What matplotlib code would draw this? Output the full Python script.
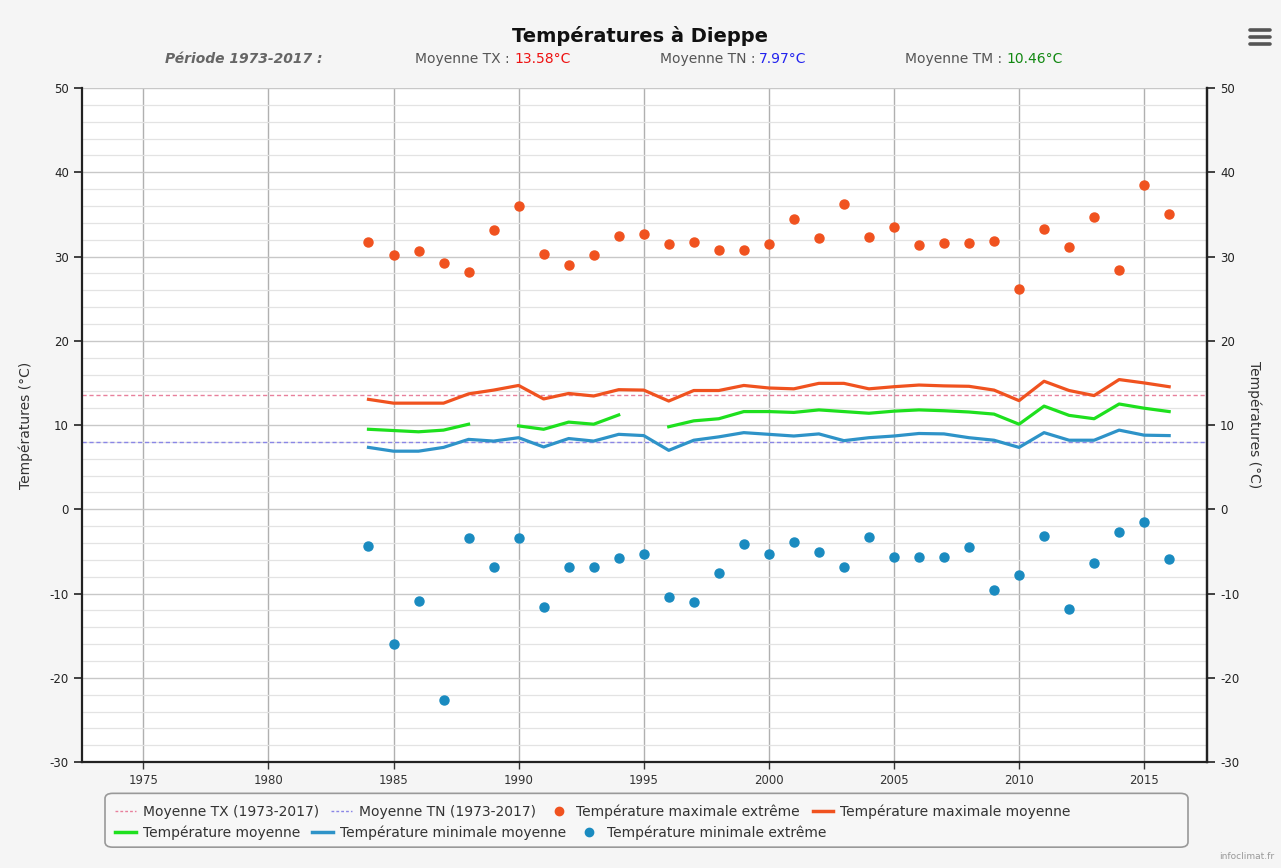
import numpy as np
import matplotlib.pyplot as plt
from matplotlib.lines import Line2D
from matplotlib.patches import FancyBboxPatch

plt.rcParams['axes.unicode_minus'] = False

# Données (Dieppe, 1984-2016)
annees = np.arange(1984, 2017)

tx_extreme = [31.7, 30.2, 30.65, 29.2, 28.2, 33.1, 36.0, 30.3, 29.0, 30.2, 32.4, 32.7,
              31.5, 31.7, 30.8, 30.8, 31.5, 34.5, 32.2, 36.2, 32.3, 33.5, 31.4, 31.6,
              31.6, 31.8, 26.1, 33.3, 31.1, 34.7, 28.4, 38.5, 35.0]

tn_extreme = [-4.4, -16.0, -10.9, -22.6, -3.4, -6.9, -3.4, -11.6, -6.9, -6.9, -5.8, -5.3,
              -10.4, -11.0, -7.6, -4.1, -5.3, -3.9, -5.1, -6.9, -3.3, -5.7, -5.7, -5.7,
              -4.5, -9.6, -7.8, -3.2, -11.8, -6.4, -2.7, -1.5, -5.9]

tx_moy = [13.05, 12.6, 12.6, 12.6, 13.7, 14.15, 14.7, 13.1, 13.75, 13.45, 14.2, 14.15,
          12.85, 14.1, 14.1, 14.7, 14.4, 14.3, 14.95, 14.95, 14.3, 14.55, 14.75, 14.65,
          14.6, 14.15, 12.9, 15.2, 14.1, 13.5, 15.4, 15.0, 14.55]

# nan = année manquante (1989, 1995)
tm_moy = [9.5, 9.35, 9.2, 9.4, 10.1, np.nan, 9.9, 9.5, 10.35, 10.1, 11.2, np.nan,
          9.8, 10.5, 10.75, 11.6, 11.6, 11.5, 11.8, 11.6, 11.4, 11.65, 11.8, 11.7,
          11.55, 11.3, 10.1, 12.25, 11.15, 10.75, 12.5, 12.0, 11.6]

tn_moy = [7.35, 6.9, 6.9, 7.35, 8.3, 8.1, 8.5, 7.4, 8.4, 8.1, 8.9, 8.75,
          7.0, 8.2, 8.6, 9.1, 8.9, 8.7, 8.95, 8.15, 8.5, 8.7, 9.0, 8.95,
          8.5, 8.2, 7.35, 9.1, 8.2, 8.2, 9.4, 8.8, 8.75]

moyenne_tx = 13.58
moyenne_tn = 7.97
moyenne_tm = 10.46

c_tx = '#f0521f'
c_tm = '#1ee01e'
c_tn = '#2e93c8'
c_tn_ext = '#1a8bc0'
c_ref_tx = '#e8809c'
c_ref_tn = '#8a86e6'

fig = plt.figure(figsize=(12.81, 8.68), dpi=100, facecolor='#f5f5f5')
ax = fig.add_axes([0.064, 0.122, 0.878, 0.7766])
ax.set_facecolor('white')

ax.axhline(moyenne_tx, color=c_ref_tx, lw=1, ls=(0, (3, 2)), zorder=2)
ax.axhline(moyenne_tn, color=c_ref_tn, lw=1, ls=(0, (3, 2)), zorder=2)
ax.plot(annees, tx_extreme, 'o', color=c_tx, ms=6.5, zorder=4)
ax.plot(annees, tx_moy, color=c_tx, lw=2.3, zorder=3)
ax.plot(annees, tm_moy, color=c_tm, lw=2.3, zorder=3)
ax.plot(annees, tn_moy, color=c_tn, lw=2.3, zorder=3)
ax.plot(annees, tn_extreme, 'o', color=c_tn_ext, ms=6.5, zorder=4)

ax.set_xlim(1972.55, 2017.5)
ax.set_ylim(-30, 50)
ax.set_xticks(np.arange(1975, 2016, 5))
ax.set_yticks(np.arange(-30, 51, 10))
ax.set_yticks(np.arange(-30, 51, 2), minor=True)
ax.grid(True, axis='x', color='#b0b0b0', lw=1)
ax.grid(True, axis='y', which='major', color='#c8c8c8', lw=1)
ax.grid(True, axis='y', which='minor', color='#e3e3e3', lw=0.9)
ax.set_axisbelow(True)

for s in ['left', 'right', 'bottom']:
    ax.spines[s].set_color('#222222')
    ax.spines[s].set_linewidth(1.6)
ax.spines['top'].set_visible(False)
ax.tick_params(axis='y', which='minor', length=0)
ax.tick_params(axis='y', which='major', length=6, width=1.2, labelsize=8.5, colors='#222222')
ax.tick_params(axis='x', length=5, width=1, labelsize=8.5, colors='#333333')
ax.set_ylabel('Températures (°C)', fontsize=10, color='#333333', labelpad=12)

ax2 = ax.twinx()
ax2.set_ylim(-30, 50)
ax2.set_yticks(np.arange(-30, 51, 10))
ax2.tick_params(axis='y', length=6, width=1.2, labelsize=8.5, colors='#222222')
for s in ['left', 'top', 'bottom']:
    ax2.spines[s].set_visible(False)
ax2.spines['right'].set_color('#222222')
ax2.spines['right'].set_linewidth(1.6)
ax2.set_ylabel('Températures (°C)', fontsize=10, color='#333333', rotation=270, labelpad=16)

# titre et sous-titre
fig.text(0.5, 0.958, 'Températures à Dieppe', ha='center', va='center',
         fontsize=14, fontweight='bold', color='#111111')
ysub = 0.932
fig.text(165 / 1281, ysub, 'Période 1973-2017 :', ha='left', va='center',
         fontsize=10, style='italic', fontweight='bold', color='#666666')
fig.text(510 / 1281, ysub, 'Moyenne TX :', ha='right', va='center', fontsize=10, color='#555555')
fig.text(514 / 1281, ysub, f'{moyenne_tx:.2f}°C', ha='left', va='center', fontsize=10, color='#ee1111')
fig.text(755 / 1281, ysub, 'Moyenne TN :', ha='right', va='center', fontsize=10, color='#555555')
fig.text(759 / 1281, ysub, f'{moyenne_tn:.2f}°C', ha='left', va='center', fontsize=10, color='#2222ee')
fig.text(1002 / 1281, ysub, 'Moyenne TM :', ha='right', va='center', fontsize=10, color='#555555')
fig.text(1006 / 1281, ysub, f'{moyenne_tm:.2f}°C', ha='left', va='center', fontsize=10, color='#118811')

# icône menu
for yy in [0.949, 0.957, 0.965]:
    fig.add_artist(Line2D([1250 / 1281, 1270 / 1281], [yy, yy], color='#555555', lw=2.6,
                          solid_capstyle='round'))

# légende sur deux lignes dans un cadre arrondi
cadre = FancyBboxPatch((105 / 1281, 0.024), (1188 - 105) / 1281, 0.062,
                       boxstyle='round,pad=0,rounding_size=0.006', transform=fig.transFigure,
                       facecolor='#f7f7f7', edgecolor='#999999', lw=1.2)
fig.add_artist(cadre)

h1 = [Line2D([], [], color=c_ref_tx, lw=1, ls=(0, (2, 1.5))),
      Line2D([], [], color=c_ref_tn, lw=1, ls=(0, (2, 1.5))),
      Line2D([], [], color=c_tx, marker='o', ls='none', ms=6),
      Line2D([], [], color=c_tx, lw=2.5)]
l1 = ['Moyenne TX (1973-2017)', 'Moyenne TN (1973-2017)',
      'Température maximale extrême', 'Température maximale moyenne']
h2 = [Line2D([], [], color=c_tm, lw=2.5),
      Line2D([], [], color=c_tn, lw=2.5),
      Line2D([], [], color=c_tn_ext, marker='o', ls='none', ms=6)]
l2 = ['Température moyenne', 'Température minimale moyenne', 'Température minimale extrême']

fig.legend(h1, l1, loc='center left', bbox_to_anchor=(108 / 1281, 0.0645), ncol=4,
           frameon=False, fontsize=10, handlelength=1.5, handletextpad=0.5,
           columnspacing=0.9, borderpad=0, labelcolor='#333333')
fig.legend(h2, l2, loc='center left', bbox_to_anchor=(108 / 1281, 0.041), ncol=3,
           frameon=False, fontsize=10, handlelength=1.5, handletextpad=0.5,
           columnspacing=0.9, borderpad=0, labelcolor='#333333')

fig.text(0.995, 0.008, 'infoclimat.fr', ha='right', va='bottom', fontsize=6.5, color='#999999')

fig.savefig('out.png', dpi=100, facecolor=fig.get_facecolor())
